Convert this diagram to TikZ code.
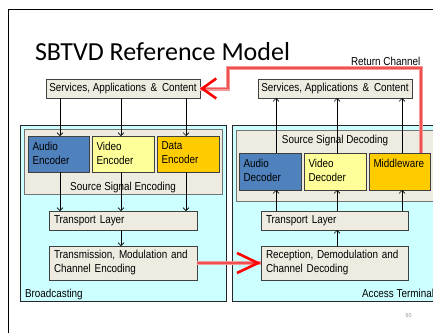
\documentclass[tikz,border=0pt]{standalone}
\usepackage{fontspec}
\setmainfont{Liberation Sans}[FakeStretch=0.86]
\newfontfamily\titlefont{Carlito}
\usetikzlibrary{arrows.meta}
\definecolor{cyanbg}{HTML}{CCFFFF}
\definecolor{graybox}{HTML}{EEECE1}
\definecolor{audioblue}{HTML}{4F81BD}
\definecolor{videoyellow}{HTML}{FFFF99}
\definecolor{datagold}{HTML}{FFCC00}
\definecolor{halocol}{HTML}{F49A9A}
\definecolor{corecol}{HTML}{F05050}
\begin{document}
\begin{tikzpicture}[x=1pt,y=-1pt,
  every node/.style={font=\fontsize{11.5}{14}\selectfont, inner sep=0pt, outer sep=0pt},
  area/.style={draw=black!85, line width=0.8pt, fill=cyanbg},
  group/.style={draw=black!55, line width=0.6pt, fill=graybox},
  box/.style={draw=black!75, line width=0.8pt, fill=graybox},
  unit/.style={draw=black!75, line width=0.8pt},
  lbl/.style={align=left, anchor=north west},
  arr/.style={line width=0.6pt, -{Straight Barb[length=3pt,width=6pt]}},
  halo/.style={line width=4pt, draw=halocol},
  core/.style={line width=1.8pt, draw=corecol},
  redtip/.style={-{Straight Barb[length=#1,width=20pt,line width=2.6pt,color=red]}}
]
\useasboundingbox (0,0) rectangle (433,332);
\fill[white] (0,0) rectangle (433,332);
\draw[line width=0.8pt] (8,345) -- (8,9) -- (445,9);

% title
\node[anchor=base west, font=\titlefont\fontsize{26}{30}\selectfont] (title) at (35,60) {SBTVD Reference Model};
\node[anchor=base west] (retlbl) at (351,65) {Return Channel};
\node[anchor=base, font=\fontsize{6}{7}\selectfont, text=black!40] (pagenum) at (408.5,317) {60};

% areas
\node[area, minimum width=206, minimum height=176] (bcast) at (123,213) {};
\node[area, minimum width=213, minimum height=176] (term) at (338.5,213) {};
\node[group, minimum width=198, minimum height=65] (sse) at (123,161.5) {};
\node[group, minimum width=201, minimum height=71] (ssd) at (336.5,165.5) {};

% services
\node[box, minimum width=154, minimum height=19] (servL) at (123,88.5) {Services, Applications \,\&\, Content};
\node[box, minimum width=154, minimum height=19] (servR) at (335,88.5) {Services, Applications \,\&\, Content};

% encoders
\node[unit, fill=audioblue, minimum width=61, minimum height=36] (audioE) at (58.5,154) {};
\node[unit, fill=videoyellow, minimum width=62, minimum height=36] (videoE) at (123,154) {};
\node[unit, fill=datagold, minimum width=62, minimum height=36] (dataE) at (188,154) {};
\node[lbl] (audioEt) at ([shift={(4.5pt,-6pt)}]audioE.north west) {Audio\\Encoder};
\node[lbl] (videoEt) at ([shift={(4.5pt,-6pt)}]videoE.north west) {Video\\Encoder};
\node[lbl] (dataEt) at ([shift={(4.5pt,-6pt)}]dataE.north west) {Data\\Encoder};
\node[anchor=base] (sseT) at (123,190) {Source Signal Encoding};

% decoders
\node[unit, fill=audioblue, minimum width=62, minimum height=37] (audioD) at (270,171.5) {};
\node[unit, fill=videoyellow, minimum width=62, minimum height=37] (videoD) at (335,171.5) {};
\node[unit, fill=datagold, minimum width=61, minimum height=37] (mw) at (399.5,171.5) {};
\node[lbl] (audioDt) at ([shift={(4.5pt,-6pt)}]audioD.north west) {Audio\\Decoder};
\node[lbl] (videoDt) at ([shift={(4.5pt,-6pt)}]videoD.north west) {Video\\Decoder};
\node[lbl] (mwt) at ([shift={(4.5pt,-6pt)}]mw.north west) {Middleware};
\node[anchor=base] (ssdT) at (335,143) {Source Signal Decoding};

% transport / channel
\node[box, minimum width=148, minimum height=19, text width=138, align=left, inner xsep=5pt] (tlL) at (123,220.5) {Transport Layer};
\node[box, minimum width=148, minimum height=34, text width=138, align=left, inner xsep=5pt] (tx) at (123,263) {Transmission, Modulation and\\Channel Encoding};
\node[box, minimum width=147, minimum height=19, text width=137, align=left, inner xsep=5pt] (tlR) at (334.5,220.5) {Transport Layer};
\node[box, minimum width=147, minimum height=34, text width=137, align=left, inner xsep=5pt] (rx) at (334.5,263) {Reception, Demodulation and\\Channel Decoding};

\node[anchor=base west] (bcT) at (25,297) {Broadcasting};
\node[anchor=base east] (atT) at (434,297) {Access Terminal};

% column coordinates
\coordinate (c1) at (60,0);
\coordinate (c2) at (121,0);
\coordinate (c3) at (186,0);
\coordinate (d1) at (276,0);
\coordinate (d2) at (337,0);
\coordinate (d3) at (402,0);

% broadcasting arrows
\draw[arr] (servL.south -| c1) -- (audioE.north -| c1);
\draw[arr] (servL.south -| c2) -- (videoE.north -| c2);
\draw[arr] (servL.south -| c3) -- (dataE.north -| c3);
\draw[arr] (audioE.south -| c1) -- (tlL.north -| c1);
\draw[arr] (videoE.south -| c2) -- (tlL.north -| c2);
\draw[arr] (dataE.south -| c3) -- (tlL.north -| c3);
\draw[arr] (tlL.south -| c2) -- (tx.north -| c2);

% terminal arrows
\draw[arr] (rx.north -| d2) -- (tlR.south -| d2);
\draw[arr] (tlR.north -| d1) -- (audioD.south -| d1);
\draw[arr] (tlR.north -| d2) -- (videoD.south -| d2);
\draw[arr] (tlR.north -| d3) -- (mw.south -| d3);
\draw[arr] (audioD.north -| d1) -- (servR.south -| d1);
\draw[arr] (videoD.north -| d2) -- (servR.south -| d2);
\draw[arr] (mw.north -| d3) -- (servR.south -| d3);

% red channels
\coordinate (r1) at (421,68);
\coordinate (r2) at (228,68);
\draw[halo] (mw.north -| r1) -- (r1) -- (r2) |- (servL.east);
\draw[core, redtip=14pt] (mw.north -| r1) -- (r1) -- (r2) |- (servL.east);
\draw[halo] (tx.east) -- (rx.west);
\draw[core, redtip=21pt] (tx.east) -- (rx.west);
\end{tikzpicture}
\end{document}
